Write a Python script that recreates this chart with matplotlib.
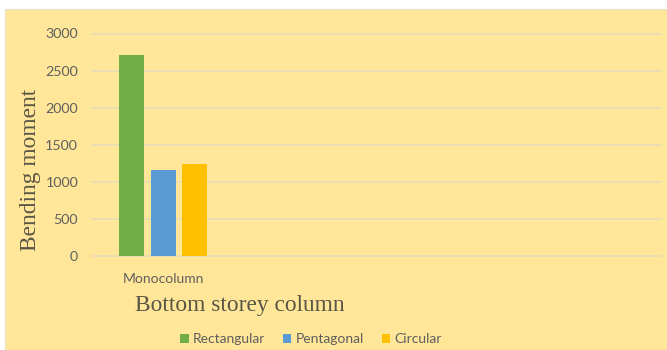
import numpy as np
import matplotlib.pyplot as plt
from matplotlib.patches import Rectangle

# Bending moment in the bottom storey column, by column cross-section
categories = ["Monocolumn"]
series = ["Rectangular", "Pentagonal", "Circular"]
rectangular = [2710]
pentagonal = [1160]
circular = [1236]
colors = ["#70AD47", "#5B9BD5", "#FFC000"]

yticks = [0, 500, 1000, 1500, 2000, 2500, 3000]

bg = "#FFE699"
grid_col = "#E6DCB8"
text_col = "#5f5f5f"
sans = "Lato"
serif = "Liberation Serif"

fig = plt.figure(figsize=(6.67, 3.5), dpi=100, facecolor="white")

# chart area
fig.patches.append(Rectangle((5 / 667, 0), 662 / 667, 341 / 350,
                             transform=fig.transFigure, facecolor=bg,
                             edgecolor="#E8E0C8", lw=0.8, zorder=-1))

ax = fig.add_axes([92 / 667, 94 / 350, 569 / 667, 222.5 / 350])
ax.set_facecolor("none")
ax.set_zorder(1)

x = np.arange(len(categories))
w = 0.176
step = 0.222
for i, (vals, c) in enumerate(zip([rectangular, pentagonal, circular], colors)):
    ax.bar(x + (i - 1) * step, vals, width=w, color=c, label=series[i], zorder=3)

ax.set_xlim(-0.5, 3.5)
ax.set_ylim(0, 3000)
ax.set_yticks(yticks)
ax.set_yticklabels([str(v) for v in yticks], fontsize=10.3, color=text_col, family=sans)
ax.set_xticks(x)
ax.set_xticklabels(categories, fontsize=10, color=text_col, family=sans)
ax.tick_params(axis="both", length=0)
ax.tick_params(axis="y", pad=10)
ax.tick_params(axis="x", pad=12)
ax.grid(axis="y", color=grid_col, lw=1.2, zorder=0)
for s in ax.spines.values():
    s.set_visible(False)
for gl in ax.get_ygridlines():
    gl.set_clip_on(False)

fig.text(31 / 667, 1 - 170 / 350, "Bending moment", rotation=90, ha="center",
         va="center", fontsize=16.8, color="#5a5545", family=serif)
fig.text(240 / 667, 1 - 305 / 350, "Bottom storey column", ha="center",
         va="center", fontsize=16.8, color="#5a5545", family=serif)

leg = fig.legend(loc="center", bbox_to_anchor=(311 / 667, 1 - 339 / 350), ncol=3,
                 frameon=False, handlelength=0.6, handleheight=0.6,
                 handletextpad=0.3, columnspacing=1.3,
                 prop={"family": sans, "size": 10})
for t in leg.get_texts():
    t.set_color(text_col)

fig.savefig("out.png", dpi=100, facecolor="white")
